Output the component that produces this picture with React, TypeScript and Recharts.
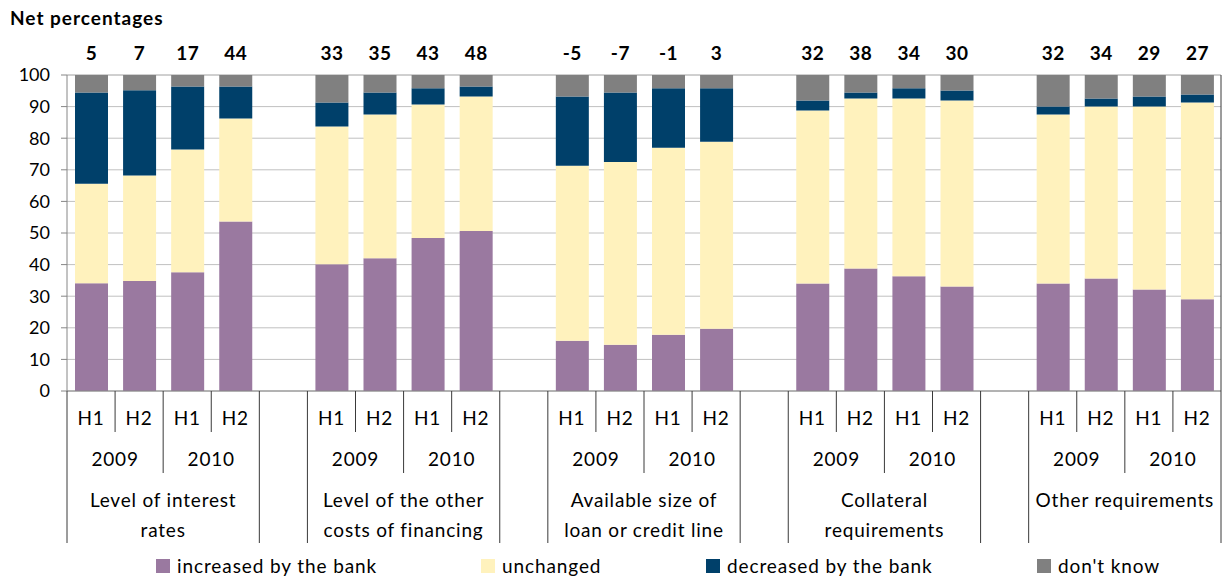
import React from 'react';
import { BarChart, Bar, XAxis, YAxis, CartesianGrid, Legend, LabelList } from 'recharts';

const groupLabelLines: string[][] = [
  ['Level of interest', 'rates'],
  ['Level of the other', 'costs of financing'],
  ['Available size of', 'loan or credit line'],
  ['Collateral', 'requirements'],
  ['Other requirements'],
];
const yearLabels = ['2009', '2010'];
const halfLabels = ['H1', 'H2', 'H1', 'H2'];

const increased = [34.1, 34.8, 37.6, 53.6, 40.1, 42.0, 48.4, 50.6, 15.9, 14.6, 17.8, 19.7, 34.0, 38.8, 36.3, 33.1, 34.0, 35.6, 32.1, 29.0];
const unchanged = [31.5, 33.4, 38.8, 32.6, 43.6, 45.5, 42.3, 42.6, 55.4, 57.9, 59.2, 59.2, 54.8, 53.8, 56.3, 58.8, 53.5, 54.4, 57.9, 62.3];
const decreased = [28.9, 27.0, 20.0, 10.2, 7.6, 7.0, 5.1, 3.2, 21.9, 22.0, 18.8, 16.9, 3.1, 1.9, 3.2, 3.2, 2.5, 2.6, 3.2, 2.5];
const dontKnow = [5.5, 4.8, 3.6, 3.6, 8.7, 5.5, 4.2, 3.6, 6.8, 5.5, 4.2, 4.2, 8.1, 5.5, 4.2, 4.9, 10.0, 7.4, 6.8, 6.2];
const netLabels = [5, 7, 17, 44, 33, 35, 43, 48, -5, -7, -1, 3, 32, 38, 34, 30, 32, 34, 29, 27];

const seriesNames = ['increased by the bank', 'unchanged', 'decreased by the bank', "don't know"];
const colors = ['#9A79A0', '#FFF2BD', '#00406A', '#808080'];

type Row = { key: string; g: number; s: number; inc?: number; unch?: number; dec?: number; dk?: number; net?: number };

const data: Row[] = [];
for (let g = 0; g < groupLabelLines.length; g++) {
  for (let s = 0; s < halfLabels.length; s++) {
    const i = g * 4 + s;
    data.push({ key: `g${g}s${s}`, g, s, inc: increased[i], unch: unchanged[i], dec: decreased[i], dk: dontKnow[i], net: netLabels[i] });
  }
  if (g < groupLabelLines.length - 1) data.push({ key: `gap${g}`, g, s: 4 });
}
const rowByKey: Record<string, Row> = {};
data.forEach((r) => (rowByKey[r.key] = r));

const FONT = 'Lato, Carlito, "DejaVu Sans", sans-serif';
const W = 1223;
const H = 579;
const PLOT_TOP = 75;
const AXIS_Y = 391;
const LEGEND_H = 26;
const LINE_COLOR = '#3a3a3a';
const LABEL_STYLE = { letterSpacing: '0.8px' };

const AxisTick = (props: any) => {
  const { x, y, payload } = props;
  const row = rowByKey[payload.value];
  if (!row) return null;
  const half = payload.offset || 24.04;
  const left = x - half;
  const els: any[] = [];
  const s = row.s;
  const fullEnd = 152;
  if (s === 0 || s === 4) {
    els.push(<line key="l" x1={left} x2={left} y1={y} y2={y + fullEnd} stroke={LINE_COLOR} strokeWidth={1} />);
  } else if (s === 1 || s === 3) {
    els.push(<line key="l" x1={left} x2={left} y1={y} y2={y + 41} stroke={LINE_COLOR} strokeWidth={1} />);
  } else if (s === 2) {
    els.push(<line key="l" x1={left} x2={left} y1={y} y2={y + 82} stroke={LINE_COLOR} strokeWidth={1} />);
  }
  if (s < 4) {
    els.push(
      <text key="h" x={x} y={y + 34} textAnchor="middle" fontSize={19} fill="#000" fontFamily={FONT} style={LABEL_STYLE}>
        {halfLabels[s]}
      </text>
    );
  }
  if (s === 1 || s === 3) {
    els.push(
      <text key="yr" x={left} y={y + 75} textAnchor="middle" fontSize={19} fill="#000" fontFamily={FONT} style={LABEL_STYLE}>
        {yearLabels[(s - 1) / 2]}
      </text>
    );
  }
  if (s === 2) {
    groupLabelLines[row.g].forEach((ln, k) => {
      els.push(
        <text key={'g' + k} x={left} y={y + 116 + k * 30} textAnchor="middle" fontSize={19} fill="#000" fontFamily={FONT} style={LABEL_STYLE}>
          {ln}
        </text>
      );
    });
  }
  if (s === 3 && row.g === groupLabelLines.length - 1) {
    const right = x + half;
    els.push(<line key="r" x1={right} x2={right} y1={y - (AXIS_Y - PLOT_TOP)} y2={y + fullEnd} stroke={LINE_COLOR} strokeWidth={1} />);
  }
  return <g>{els}</g>;
};

const NetLabel = (props: any) => {
  const { x, y, width, value } = props;
  if (value === undefined || value === null) return null;
  return (
    <text x={x + width / 2} y={y - 15} textAnchor="middle" fontSize={19} fontWeight="bold" fill="#000" fontFamily={FONT} style={{ letterSpacing: '0.5px' }}>
      {value}
    </text>
  );
};

const legendLefts = [156, 481, 706, 1037];

const LegendContent = () => (
  <div style={{ position: 'relative', width: W, height: LEGEND_H, fontFamily: FONT, fontSize: 19, color: '#000' }}>
    {seriesNames.map((n, i) => (
      <div key={n} style={{ position: 'absolute', left: legendLefts[i], top: 3, display: 'flex', alignItems: 'center', whiteSpace: 'nowrap' }}>
        <span style={{ display: 'inline-block', width: 14, height: 14, background: colors[i], marginRight: 7 }} />
        <span style={{ lineHeight: '20px', letterSpacing: '0.9px' }}>{n}</span>
      </div>
    ))}
  </div>
);

export default function App() {
  return (
    <div style={{ position: 'absolute', left: 0, top: 0, width: W, height: H, background: '#fff', fontFamily: FONT }}>
      <div style={{ position: 'absolute', left: 10, top: 7, fontSize: 19, fontWeight: 'bold', lineHeight: '22px', color: '#000', letterSpacing: '1px', zIndex: 2 }}>
        Net percentages
      </div>
      <BarChart width={W} height={H} data={data} margin={{ top: PLOT_TOP, right: 2, left: 0, bottom: 0 }} barSize={33}>
        <CartesianGrid vertical={false} stroke="#c0c0c0" />
        <XAxis
          dataKey="key"
          interval={0}
          tickLine={false}
          tickSize={0}
          tickMargin={0}
          height={H - AXIS_Y - LEGEND_H}
          axisLine={{ stroke: '#868686' }}
          tick={<AxisTick />}
        />
        <YAxis
          width={67}
          domain={[0, 100]}
          ticks={[0, 10, 20, 30, 40, 50, 60, 70, 80, 90, 100]}
          interval={0}
          tickSize={6}
          tickMargin={11}
          axisLine={{ stroke: '#868686' }}
          tickLine={{ stroke: '#868686' }}
          tick={{ fontSize: 18, fill: '#000', fontFamily: FONT }}
        />
        <Legend verticalAlign="bottom" height={LEGEND_H} wrapperStyle={{ left: 0, width: W }} content={<LegendContent />} />
        <Bar dataKey="inc" name={seriesNames[0]} stackId="a" fill={colors[0]} isAnimationActive={false} />
        <Bar dataKey="unch" name={seriesNames[1]} stackId="a" fill={colors[1]} isAnimationActive={false} />
        <Bar dataKey="dec" name={seriesNames[2]} stackId="a" fill={colors[2]} isAnimationActive={false} />
        <Bar dataKey="dk" name={seriesNames[3]} stackId="a" fill={colors[3]} isAnimationActive={false}>
          <LabelList dataKey="net" content={<NetLabel />} />
        </Bar>
      </BarChart>
    </div>
  );
}
